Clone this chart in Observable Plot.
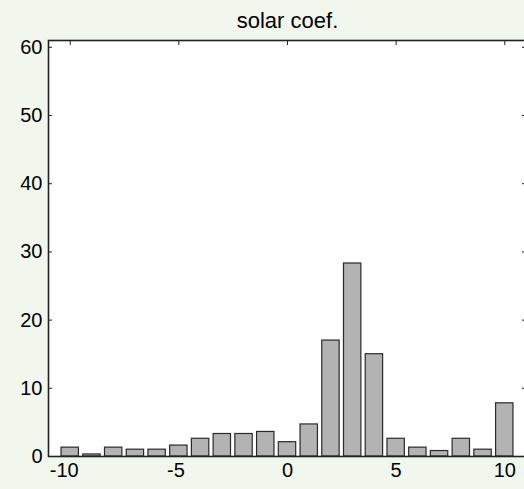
<!DOCTYPE html>
<html>
<head>
<meta charset="utf-8">
<script src="https://cdn.jsdelivr.net/npm/d3@7"></script>
<script src="https://cdn.jsdelivr.net/npm/@observablehq/plot@0.6"></script>
<style>
  html, body { margin: 0; padding: 0; background: #F2F7ED; overflow: hidden; }
</style>
</head>
<body>
<div id="chart"></div>
<script>
const titleText = "solar coef.";
const binCenters = [-10, -9, -8, -7, -6, -5, -4, -3, -2, -1, 0, 1, 2, 3, 4, 5, 6, 7, 8, 9, 10];
const counts = [1.3, 0.3, 1.3, 1.0, 1.0, 1.6, 2.6, 3.3, 3.3, 3.6, 2.1, 4.7, 17.0, 28.3, 15.0, 2.6, 1.3, 0.8, 2.6, 1.0, 7.8];
const xTicks = [-10, -5, 0, 5, 10];
const yTicks = [0, 10, 20, 30, 40, 50, 60];
const xDomain = [-11, 11];
const yDomain = [0, 61];
const barHalfWidth = 0.4;

const data = binCenters.map((c, i) => ({c, v: counts[i]}));
const fmt = d => String(d);
const blank = () => "";
const edge = "#222";

const chart = Plot.plot({
  width: 524,
  height: 489,
  marginLeft: 48,
  marginRight: -2,
  marginTop: 40,
  marginBottom: 33,
  style: "font: 20px 'Liberation Sans', Arial, sans-serif; background: #F2F7ED; overflow: hidden; color: #000;",
  x: {domain: xDomain, axis: null},
  y: {domain: yDomain, axis: null},
  marks: [
    Plot.frame({fill: "white"}),
    Plot.rectY(data, {
      x1: d => d.c - barHalfWidth,
      x2: d => d.c + barHalfWidth,
      y: "v",
      fill: "#b3b3b3",
      stroke: "#2a2a2a",
      strokeWidth: 1.2
    }),
    Plot.frame({stroke: edge, strokeWidth: 1.6}),
    // inward ticks
    Plot.axisY(yTicks, {anchor: "left", tickSize: 4, dx: 4, tickFormat: blank, label: null, stroke: edge}),
    Plot.axisY(yTicks, {anchor: "right", tickSize: 5, dx: -5, tickFormat: blank, label: null, stroke: edge}),
    Plot.axisX(xTicks, {anchor: "top", tickSize: 4, dy: 4, tickFormat: blank, label: null, stroke: edge}),
    // labels
    Plot.axisY(yTicks, {anchor: "left", tickSize: 0, tickPadding: 6, tickFormat: fmt, label: null, fill: "#000", fontSize: 20}),
    Plot.axisX(xTicks.filter(t => t === -10), {anchor: "bottom", tickSize: 0, tickPadding: 6, dx: -6, tickFormat: fmt, label: null, fill: "#000", fontSize: 20}),
    Plot.axisX(xTicks.filter(t => t === -5), {anchor: "bottom", tickSize: 0, tickPadding: 6, dx: -3, tickFormat: fmt, label: null, fill: "#000", fontSize: 20}),
    Plot.axisX(xTicks.filter(t => t >= 0), {anchor: "bottom", tickSize: 0, tickPadding: 6, tickFormat: fmt, label: null, fill: "#000", fontSize: 20}),
    Plot.text([titleText], {
      frameAnchor: "top",
      text: d => d,
      lineAnchor: "bottom",
      dy: -13,
      fontSize: 22,
      fill: "#000"
    })
  ]
});
document.getElementById("chart").appendChild(chart);
</script>
</body>
</html>
